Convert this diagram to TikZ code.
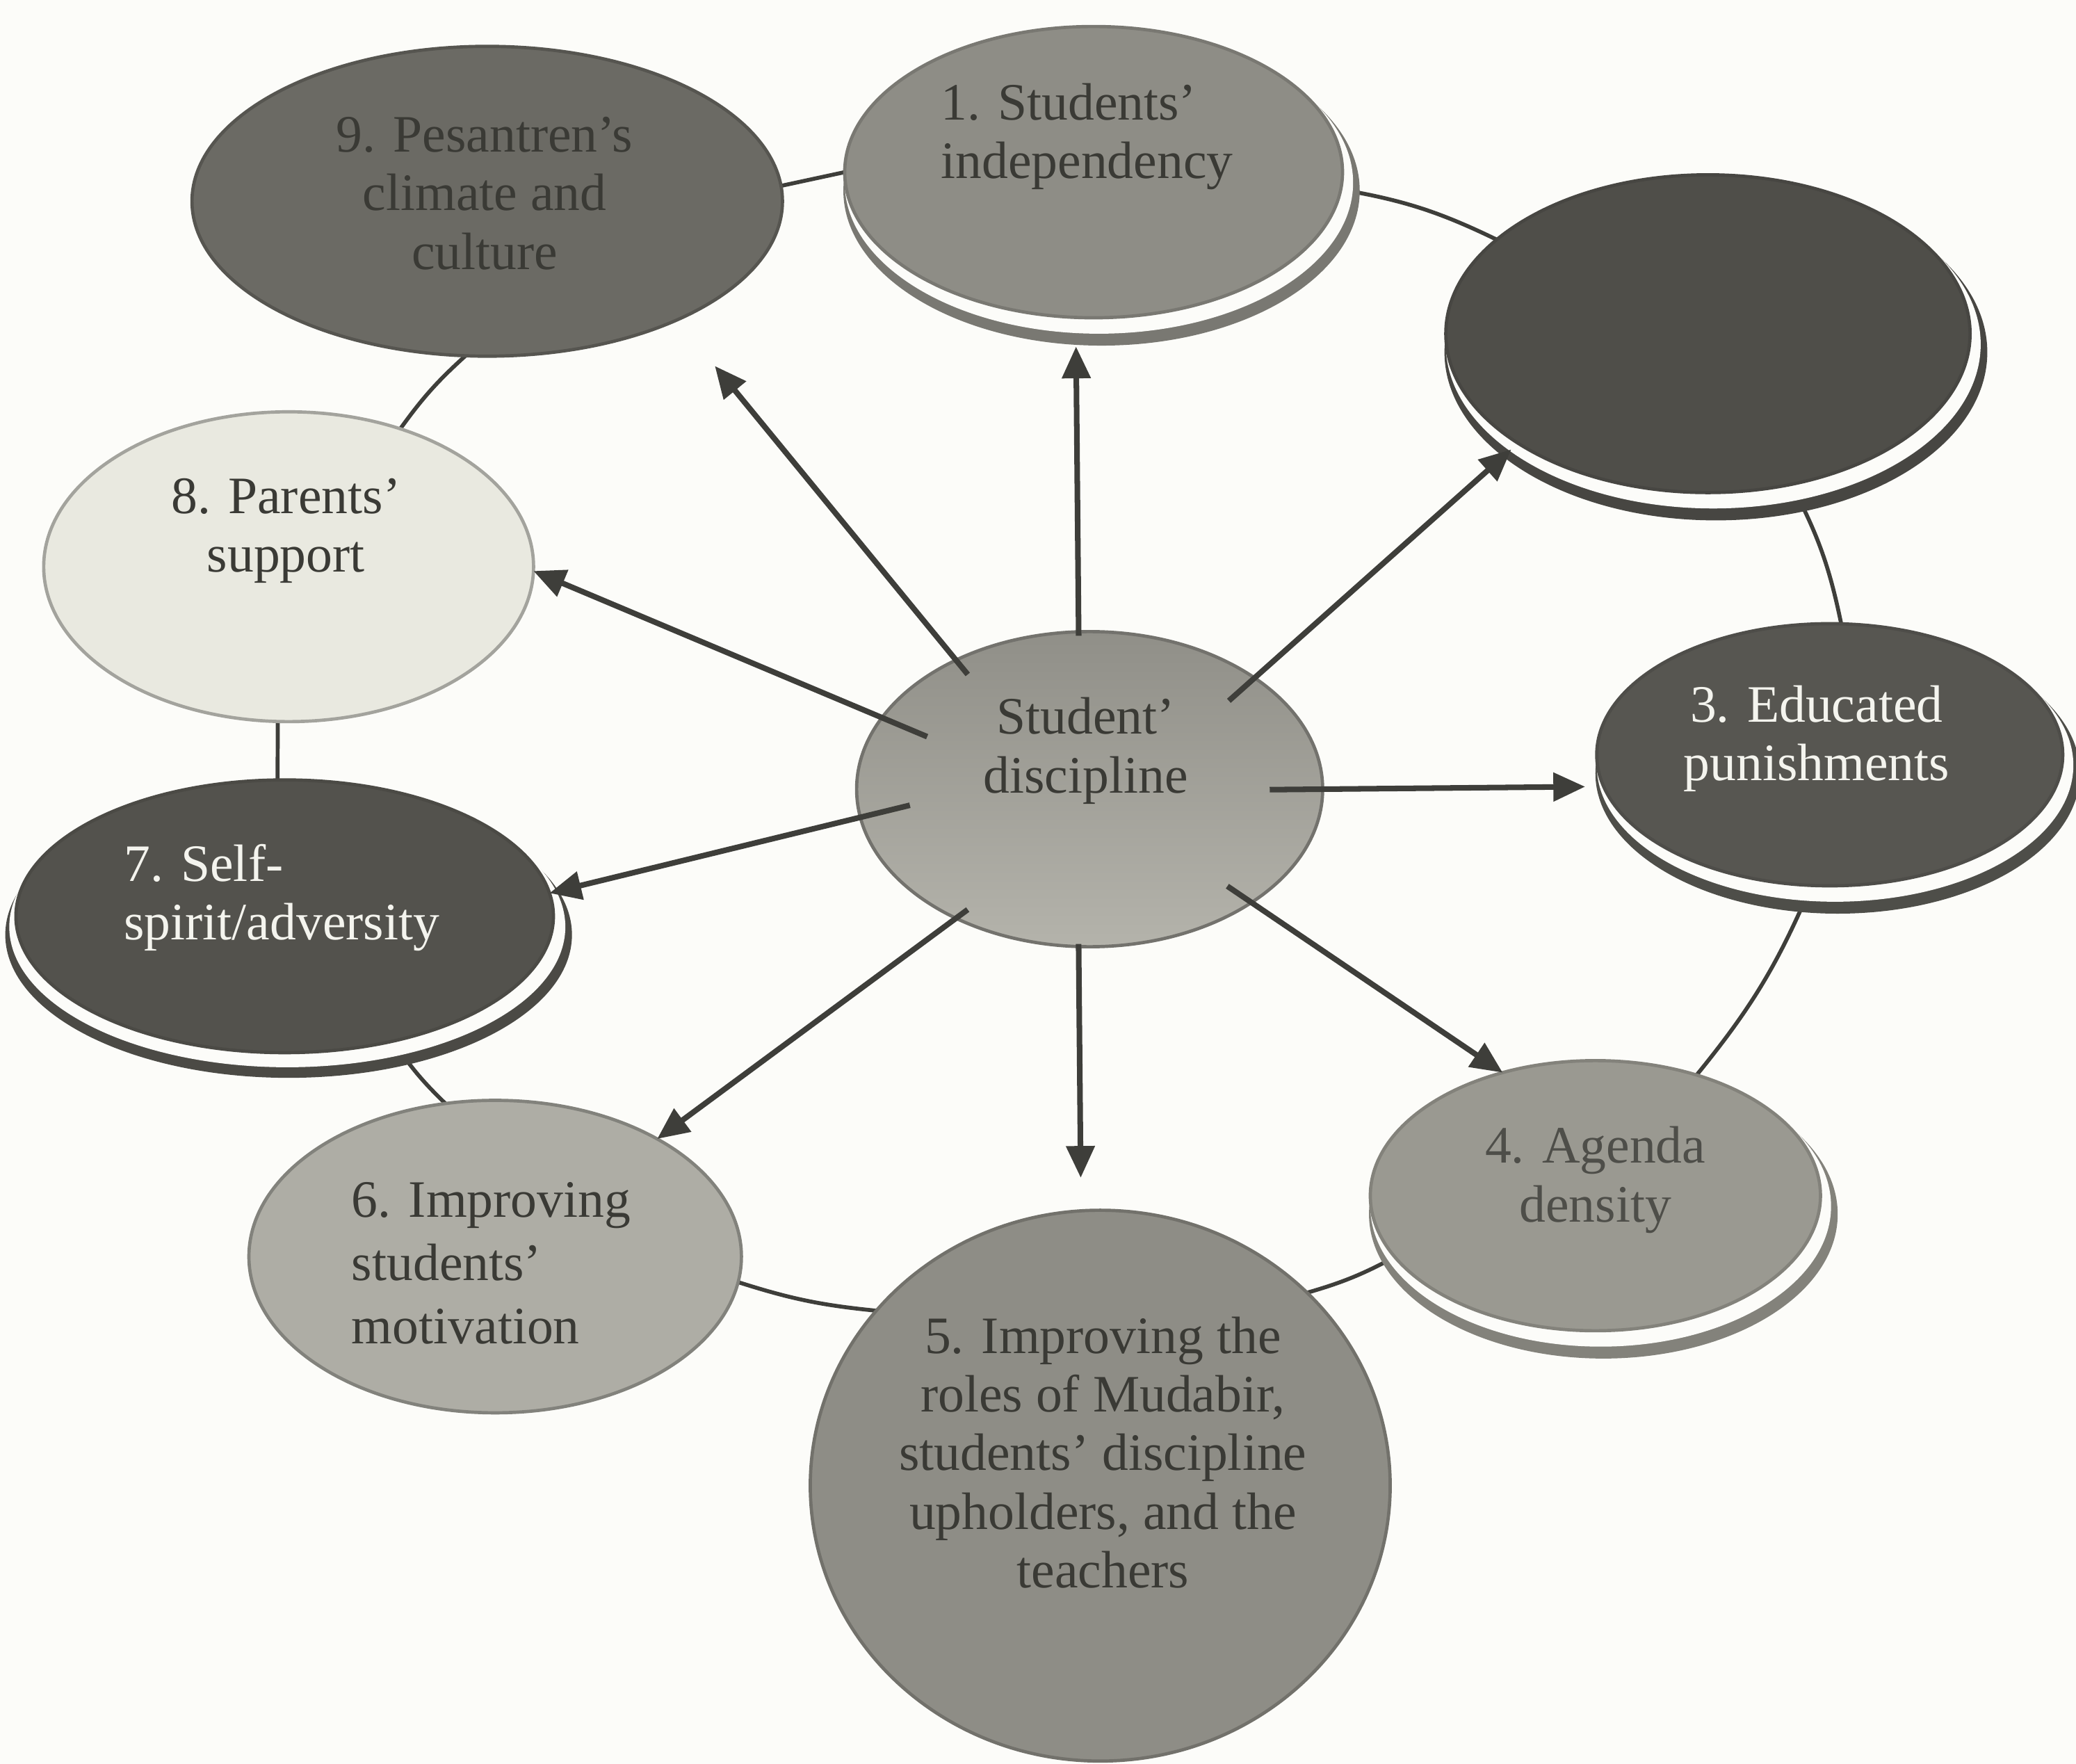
\documentclass[tikz,border=0pt]{standalone}
\usepackage{fontspec}
\setmainfont{Liberation Serif}
\usetikzlibrary{arrows.meta,shapes.geometric}
\definecolor{paper}{HTML}{FCFCF9}
\definecolor{linec}{HTML}{3E3E3A}
\definecolor{ctop}{HTML}{908F88}
\definecolor{cbot}{HTML}{B4B3AB}
\definecolor{c9}{HTML}{6B6A64}
\definecolor{c1}{HTML}{8E8D86}
\definecolor{c2}{HTML}{4F4E49}
\definecolor{c3}{HTML}{575651}
\definecolor{c4}{HTML}{9A9991}
\definecolor{c5}{HTML}{8E8D86}
\definecolor{c6}{HTML}{AEADA5}
\definecolor{c7}{HTML}{53524D}
\definecolor{c8}{HTML}{E9E9E0}
\definecolor{darktext}{HTML}{3A3A35}
\definecolor{lighttext}{HTML}{F4F4EE}
\pgfdeclarelayer{paperlayer}
\pgfdeclarelayer{links}
\pgfsetlayers{paperlayer,links,main}
\begin{document}
\begin{tikzpicture}[x=0.1mm,y=0.1mm,
  bubble/.style={ellipse, inner sep=0pt, outer sep=0pt, line width=0.7pt},
  lbl/.style={inner sep=0pt, font=\fontsize{11.3pt}{12.6pt}\selectfont, text=darktext, align=center},
  arr/.style={draw=linec, line width=1.2pt, -{Triangle[length=2.4mm,width=2.1mm]}},
  link/.style={draw=linec, line width=0.85pt}]
\useasboundingbox (0,0) rectangle (1568,-1332);
\begin{pgfonlayer}{paperlayer}
\fill[paper] (0,0) rectangle (1568,-1332);
\end{pgfonlayer}

% rings (white gap + dark crescent)
\fill[c1!85!black] (832,-144) ellipse [x radius=195, y radius=117];
\fill[paper] (830,-138) ellipse [x radius=192, y radius=114];
\fill[c2!90!black] (1296,-266) ellipse [x radius=205, y radius=127];
\fill[paper] (1294,-260) ellipse [x radius=202, y radius=124];
\fill[c3!90!black] (1388,-584) ellipse [x radius=183, y radius=106];
\fill[paper] (1386,-578) ellipse [x radius=180, y radius=103];
\fill[c4!85!black] (1211,-917) ellipse [x radius=177, y radius=109];
\fill[paper] (1209,-911) ellipse [x radius=174, y radius=106];
\fill[c7!90!black] (218,-706) ellipse [x radius=214, y radius=108];
\fill[paper] (217,-700) ellipse [x radius=210, y radius=106];

% nodes
\node[bubble, top color=ctop, bottom color=cbot, draw=ctop!80!black, minimum width=35.2mm, minimum height=23.8mm] (c) at (823,-596) {};
\node[bubble, fill=c9, draw=c9!80!black, minimum width=44.6mm, minimum height=23.4mm] (n9) at (368,-152) {};
\node[bubble, fill=c1, draw=c1!85!black, minimum width=37.6mm, minimum height=22mm] (n1) at (826,-130) {};
\node[bubble, fill=c2, draw=c2!90!black, minimum width=39.6mm, minimum height=24mm] (n2) at (1290,-252) {};
\node[bubble, fill=c3, draw=c3!90!black, minimum width=35.2mm, minimum height=19.8mm] (n3) at (1382,-570) {};
\node[bubble, fill=c4, draw=c4!85!black, minimum width=34mm, minimum height=20.4mm] (n4) at (1205,-903) {};
\node[bubble, fill=c5, draw=c5!80!black, minimum width=43.8mm, minimum height=41.6mm] (n5) at (831,-1122) {};
\node[bubble, fill=c6, draw=c6!75!black, minimum width=37.2mm, minimum height=23.6mm] (n6) at (374,-949) {};
\node[bubble, fill=c7, draw=c7!90!black, minimum width=40.6mm, minimum height=20.6mm] (n7) at (215,-692) {};
\node[bubble, fill=c8, draw=c8!70!black, minimum width=37mm, minimum height=23.4mm] (n8) at (218,-428) {};

% labels
\node[lbl] (tc) at (820,-567) {Student’\\discipline};
\node[lbl] (t9) at (366,-146) {9. Pesantren’s\\climate and\\culture};
\node[lbl, anchor=west, align=left] (t1) at (710,-103) {1. Students’\\independency};
\node[lbl, text=lighttext] (t3) at (1372,-558) {3. Educated\\punishments};
\node[lbl, text=darktext!90!white] (t4) at (1205,-891) {4. Agenda\\density};
\node[lbl] (t5) at (833,-1097) {5. Improving the\\roles of Mudabir,\\students’ discipline\\upholders, and the\\teachers};
\node[lbl, anchor=west, align=left, font=\fontsize{11.3pt}{13.6pt}\selectfont] (t6) at (265,-954) {6. Improving\\students’\\motivation};
\node[lbl, anchor=west, align=left, text=lighttext] (t7) at (93,-678) {7. Self-\\spirit/adversity};
\node[lbl] (t8) at (216,-401) {8. Parents’\\support};

% cycle links (behind the bubbles)
\begin{pgfonlayer}{links}
\draw[link] (n9.3) -- (n1.180);
\draw[link] (n1.-4) to[bend left=8] (n2.156);
\draw[link] (n2.-61) to[bend left=8] (n3.85);
\draw[link] (n3.-98) to[bend left=8] (n4.50);
\draw[link] (n4.197) to[bend left=6] (n5.43);
\draw[link] (n5.142) to[bend left=6] (n6.-6);
\draw[link] (n6.108) to[bend left=6] (n7.-49);
\draw[link] (n7.93) -- (n8.266);
\draw[link] (n8.51) to[bend left=6] (n9.262);
\end{pgfonlayer}

% arrows from the centre
\draw[arr, shorten <=-1.4mm, shorten >=4.5mm] (c.136.4) -- (n9.-32.2);
\draw[arr, shorten <=-0.3mm, shorten >=2.2mm] (c.94.8) -- (n1.263.8);
\draw[arr, shorten <=-2.6mm, shorten >=0.7mm] (c.34.9) -- (n2.210.3);
\draw[arr, shorten <=-4mm, shorten >=1.4mm] (c.0) -- (n3.188.7);
\draw[arr, shorten <=-2.2mm] (c.-35.5) -- (n4.127.3);
\draw[arr, shorten <=-0.2mm, shorten >=2.5mm] (c.266.1) -- (n5.94.4);
\draw[arr, shorten <=-1.1mm] (c.224) -- (n6.36.8);
\draw[arr, shorten <=-3.85mm] (c.187.7) -- (n7.5.85);
\draw[arr, shorten <=-3.7mm] (c.161.7) -- (n8.-1.9);
\end{tikzpicture}
\end{document}
